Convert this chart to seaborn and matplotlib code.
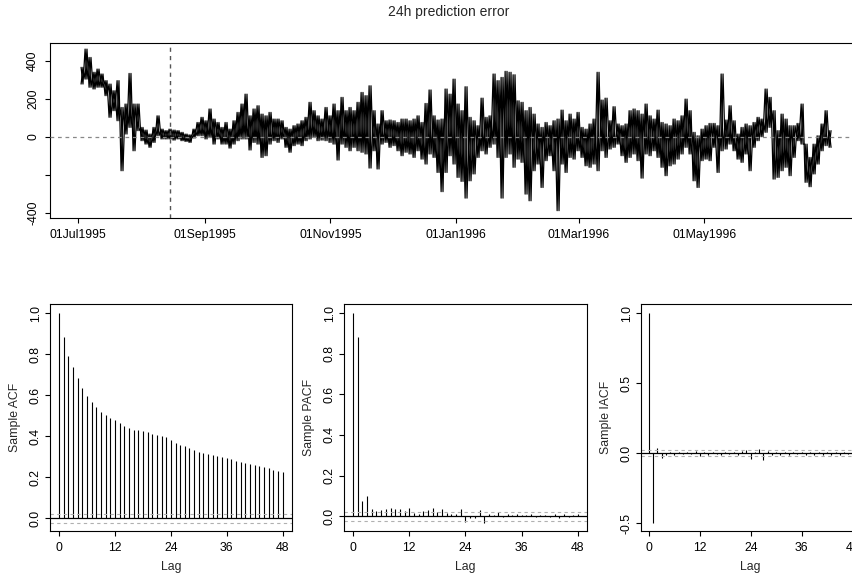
import numpy as np
import pandas as pd
import matplotlib
matplotlib.use("Agg")
import matplotlib.pyplot as plt
import seaborn as sns

sns.set_theme(style="ticks")
plt.rcParams["font.family"] = ["Liberation Sans", "DejaVu Sans"]
plt.rcParams["axes.unicode_minus"] = False

# ---------------- data ----------------
title = "24h prediction error"

series_start = "1995-07-01 03:30"
block_hours = 46.73

err_high = [365, 461, 417, 339, 356, 330, 295, 277, 242, 295, 154, 172, 333, 172, 172, 49, 35, 14, 49, 110,
            40, 32, 40, 35, 32, 23, 14, 10, 40, 75, 102, 84, 146, 93, 75, 49, 75,
            40, 84, 128, 172, 224, 110, 146, 163, 119, 110, 128, 93, 93, 84, 49, 40, 58, 67, 84, 102,
            181, 137, 110, 93, 154, 110, 172, 137, 207, 137, 154, 137, 181, 233, 216, 268, 137, 67,
            137, 84, 88, 84, 75, 93, 93, 84, 93, 110, 75, 175, 246, 110, 88, 93, 251, 224, 303, 172,
            137, 263, 102, 84, 58, 203, 102, 110, 330, 295, 312, 344, 339, 326, 189, 181, 137, 154,
            119, 67, 49, 75, 58, 84, 93, 140, 84, 119, 93, 128, 49, 40, 67, 93, 339, 193, 203, 84,
            158, 67, 58, 67, 137, 146, 137, 119, 172, 110, 93, 140, 75, 67, 58, 93, 84, 110,
            198, 137, 23, 5, 40, 58, 70, 70, 58, 330, 88, 163, 84, 14, 49, 67, 58, 75, 102, 93,
            251, 207, 137, 32, 119, 93, 58, 58, 70, 172, -39, -109, -39, 5, 67, 137, 32]
err_low = [277, 303, 260, 251, 260, 260, 216, 102, 137, 84, -179, 14, 49, -74, 32, -21, -39, -56, -30, 5,
           -12, -12, -12, -18, -12, -21, -25, -30, -7, 5, 5, -12, -4, -39, -12, -39, -39,
           -60, -39, -21, -12, -12, -70, -30, -39, -109, -100, -39, -21, -30, -12, -56, -82, -47, -39, -47, -21,
           -12, -4, -21, -18, -21, -30, -39, -123, -39, -56, -74, -56, -74, -82, -91, -165, -74, -170,
           -39, -30, -56, -47, -74, -100, -82, -91, -109, -74, -118, -144, -91, -109, -188, -289, -188, -100, -144, -214,
           -235, -323, -232, -196, -109, -74, -91, -56, -39, -109, -323, -109, -91, -161, -118, -135, -302, -337,
           -179, -144, -267, -126, -100, -179, -389, -144, -188, -109, -118, -74, -109, -153, -161, -144, -179, -74, -109, -65,
           -56, -39, -100, -135, -109, -91, -126, -218, -91, -100, -74, -109, -161, -205, -153, -144, -118, -91,
           -56, -91, -232, -267, -126, -118, -126, -56, -188, -74, -65, -39, -74, -118, -135, -91, -179, -56, -21, 0,
           23, 49, -223, -214, -179, -161, -205, -109, -21, -39, -240, -263, -196, -144, -74, -47, -56]

split_date = "1995-08-15"
date_ticks = ["1995-07-01", "1995-09-01", "1995-11-01", "1996-01-01", "1996-03-01", "1996-05-01"]
date_labels = ["01Jul1995", "01Sep1995", "01Nov1995", "01Jan1996", "01Mar1996", "01May1996"]
err_ticks = [-400, -200, 0, 200, 400]
err_tick_labels = ["-400", "", "0", "200", "400"]

lags = list(range(49))
acf = [1.0, 0.883, 0.792, 0.737, 0.683, 0.637, 0.598, 0.567, 0.543, 0.520, 0.504, 0.489, 0.480,
       0.463, 0.452, 0.441, 0.432, 0.429, 0.424, 0.420, 0.413, 0.407, 0.400, 0.397, 0.384,
       0.367, 0.359, 0.354, 0.345, 0.332, 0.325, 0.320, 0.315, 0.309, 0.302, 0.298, 0.294,
       0.289, 0.280, 0.275, 0.270, 0.263, 0.259, 0.255, 0.249, 0.244, 0.236, 0.229, 0.224]
pacf = [1.0, 0.882, 0.076, 0.100, 0.035, 0.026, 0.031, 0.033, 0.038, 0.033, 0.036, 0.026, 0.040,
        0.013, 0.008, 0.023, 0.030, 0.038, 0.018, 0.033, 0.013, 0.008, 0.008, 0.033, -0.030,
        -0.010, -0.008, 0.030, -0.035, 0.010, 0.005, 0.020, -0.005, 0.008, 0.005, 0.010, 0.005,
        0.004, 0.008, -0.004, 0.006, 0.004, -0.006, 0.008, -0.008, 0.010, -0.006, 0.005, 0.008]
iacf = [1.0, -0.495, 0.036, -0.032, -0.010, 0.008, -0.012, 0.006, -0.008, 0.010, -0.006, 0.015, -0.018,
        0.008, -0.010, 0.006, -0.008, -0.012, 0.010, -0.006, 0.008, -0.010, 0.015, 0.025, -0.040,
        0.010, 0.030, -0.045, 0.018, -0.012, 0.010, -0.015, 0.008, -0.012, 0.010, -0.008, 0.012,
        -0.010, 0.008, -0.015, 0.010, -0.012, 0.008, -0.010, 0.012, -0.015, 0.010, -0.008, 0.012]
conf_limit = 0.022

# ---------------- build series table ----------------
# each block is drawn as its high/low excursion; two traversal orders give the
# dense, cross-hatched look of the hourly trace
start = pd.Timestamp(series_start)
centers = [start + pd.Timedelta(hours=block_hours * (i + 1)) for i in range(len(err_high))]
rows = []
for t, h, l in zip(centers, err_high, err_low):
    rows.append(("a", t - pd.Timedelta(hours=11), h))
    rows.append(("a", t + pd.Timedelta(hours=11), l))
    rows.append(("b", t - pd.Timedelta(hours=11), l))
    rows.append(("b", t + pd.Timedelta(hours=11), h))
df = pd.DataFrame(rows, columns=["pass", "time", "error"])

# ---------------- figure ----------------
W, H = 853, 575
fig = plt.figure(figsize=(W / 100, H / 100), dpi=100)

def frac(x0, y0, x1, y1):
    return [x0 / W, 1 - y1 / H, (x1 - x0) / W, (y1 - y0) / H]

FS = 8.8

def style_axes(ax):
    for s in ax.spines.values():
        s.set_visible(True)
        s.set_color("black")
        s.set_linewidth(0.8)
    ax.tick_params(axis="both", direction="out", length=3.8, width=0.8, color="black",
                   labelsize=FS, labelcolor="black")
    ax.grid(False)
    ax.set_facecolor("white")

# top time-series panel
ax = fig.add_axes(frac(50, 43, 857, 217.7))
sns.lineplot(data=df, x="time", y="error", units="pass", sort=False, estimator=None,
             color="black", linewidth=0.9, ax=ax)
ax.axvline(pd.Timestamp(split_date), color="#555555", lw=1.0, ls=(0, (3, 3)), zorder=5)
ax.axhline(0, color="#888888", lw=0.9, ls=(0, (3, 3)), zorder=5)
ax.set_xlim(pd.Timestamp("1995-06-17 12:00"), pd.Timestamp("1996-07-14 07:00"))
ax.set_ylim(-426, 493)
ax.set_xticks(pd.to_datetime(date_ticks))
ax.set_xticklabels(date_labels)
ax.set_yticks(err_ticks)
ax.set_yticklabels(err_tick_labels, rotation=90, va="center")
ax.set_xlabel("")
ax.set_ylabel("")
style_axes(ax)
ax.tick_params(axis="x", pad=4.5)
ax.tick_params(axis="y", pad=4)

fig.text(449 / W, 1 - 12 / H, title, ha="center", va="center", fontsize=10)

# correlogram panels
panels = [
    (acf, "Sample ACF", (50, 304, 291.7, 530.7), (-0.0605, 1.045), [0.0, 0.2, 0.4, 0.6, 0.8, 1.0]),
    (pacf, "Sample PACF", (344, 304, 587, 530.7), (-0.072, 1.046), [0.0, 0.2, 0.4, 0.6, 0.8, 1.0]),
    (iacf, "Sample IACF", (640.7, 304, 860.7, 530.7), (-0.553, 1.066), [-0.5, 0.0, 0.5, 1.0]),
]
for vals, lab, box, ylim, yt in panels:
    a = fig.add_axes(frac(*box))
    a.vlines(lags, 0, vals, color="black", lw=0.8)
    a.axhline(0, color="black", lw=0.9)
    a.axhline(conf_limit, color="#b0b0b0", lw=0.8, ls=(0, (3, 3)))
    a.axhline(-conf_limit, color="#b0b0b0", lw=0.8, ls=(0, (3, 3)))
    a.set_xlim(-1.92, 49.92)
    a.set_ylim(*ylim)
    a.set_xticks([0, 12, 24, 36, 48])
    a.set_yticks(yt)
    a.set_yticklabels([f"{v:.1f}" for v in yt], rotation=90, va="center")
    style_axes(a)
    a.tick_params(axis="x", pad=4.5)
    a.tick_params(axis="y", pad=2)
    wpx = box[2] - box[0]
    hpx = box[3] - box[1]
    a.set_ylabel(lab, fontsize=FS, va="center")
    a.yaxis.set_label_coords(-35 / wpx, 0.5)
    a.set_xlabel("Lag", fontsize=FS, va="center")
    a.xaxis.set_label_coords(0.5, -36 / hpx)

fig.savefig("out.png", dpi=100)
